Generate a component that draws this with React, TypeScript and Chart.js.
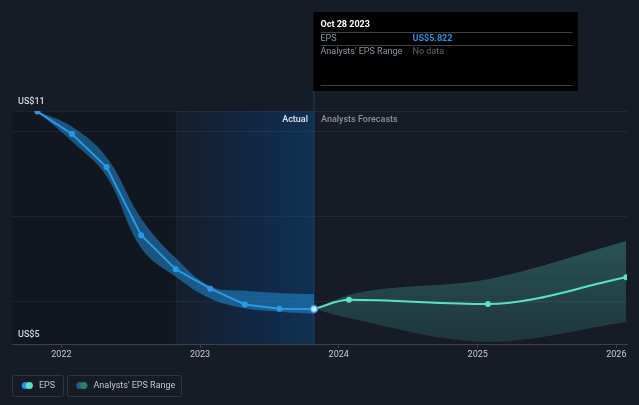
import React, { useEffect, useRef } from "react";
import { Chart, registerables } from "chart.js";

Chart.register(...registerables);

// ---- data ----
const actualDates = ["2021-10-30", "2022-01-29", "2022-04-30", "2022-07-30", "2022-10-29", "2023-01-28", "2023-04-29", "2023-07-29", "2023-10-28"];
const actualEps = [10.466, 9.94, 9.16, 7.56, 6.76, 6.3, 5.93, 5.83, 5.822];
const actualHigh = [10.466, 10.11, 9.39, 7.96, 7.02, 6.36, 6.25, 6.2, 6.17];
const actualLow = [10.466, 9.76, 8.94, 7.26, 6.58, 6.07, 5.84, 5.76, 5.71];

const forecastDates = ["2023-10-28", "2024-01-28", "2025-01-28", "2026-01-27"];
const forecastEps = [5.822, 6.04, 5.94, 6.57];
const forecastHigh = [5.822, 6.15, 6.52, 7.42];
const forecastLow = [5.822, 5.61, 5.05, 5.52];

const yearTicks = [2022, 2023, 2024, 2025, 2026];
const yGridValues = [6, 8, 10];
const yTopLabel = "US$11";
const yBottomLabel = "US$5";
const tooltipDate = "Oct 28 2023";
const tooltipEps = "US$5.822";
const tooltipRange = "No data";

const FONT = "Roboto, 'Noto Sans', sans-serif";
const BG = "#161b26";

const toPts = (dates: string[], vals: number[]) =>
  dates.map((d, i) => ({ x: Date.parse(d), y: vals[i] }));

const overlayPlugin = {
  id: "overlay",
  beforeDatasetsDraw(chart: any) {
    const { ctx, chartArea, scales } = chart;
    const x = scales.x;
    const xStart = x.getPixelForValue(Date.parse(actualDates[4]));
    const xNow = x.getPixelForValue(Date.parse(actualDates[actualDates.length - 1]));
    const top = chartArea.top;
    const bottom = chartArea.bottom;
    ctx.save();
    ctx.fillStyle = "rgba(0,0,0,0.18)";
    ctx.fillRect(chartArea.left, top, xStart - chartArea.left, bottom - top);
    const g = ctx.createLinearGradient(xStart, 0, xNow, 0);
    g.addColorStop(0, "rgba(10,70,130,0.08)");
    g.addColorStop(1, "rgba(10,70,130,0.5)");
    ctx.fillStyle = g;
    ctx.fillRect(xStart, top, xNow - xStart, bottom - top);
    ctx.fillStyle = "rgba(255,255,255,0.03)";
    ctx.fillRect(xStart, top, 1, bottom - top);
    ctx.fillStyle = "rgba(35,80,125,0.7)";
    ctx.fillRect(Math.round(xNow) - 0.5, 91, 1, bottom - 91);
    ctx.restore();
  },
  afterDraw(chart: any) {
    const { ctx, chartArea, scales } = chart;
    const x = scales.x;
    const xNow = x.getPixelForValue(Date.parse(actualDates[actualDates.length - 1]));
    ctx.save();
    ctx.textBaseline = "middle";
    ctx.font = `500 9px ${FONT}`;
    ctx.fillStyle = "#d4d7dc";
    ctx.textAlign = "left";
    ctx.fillText(yTopLabel, 18, chartArea.top - 9);
    ctx.fillText(yBottomLabel, 18, chartArea.bottom - 9);
    ctx.font = `500 9px ${FONT}`;
    ctx.fillStyle = "#e2e5ea";
    ctx.textAlign = "right";
    ctx.fillText("Actual", xNow - 6, chartArea.top + 9);
    ctx.fillStyle = "#8a9099";
    ctx.textAlign = "left";
    ctx.fillText("Analysts Forecasts", xNow + 7, chartArea.top + 9);

    const bx = Math.round(xNow) - 0.5;
    ctx.fillStyle = "#000000";
    ctx.fillRect(bx, 12, 578 - bx, 79);
    ctx.fillStyle = "#3a3f48";
    ctx.fillRect(bx + 7, 32, 252, 1);
    ctx.fillRect(bx + 7, 45, 252, 1);
    ctx.fillRect(bx + 7, 85, 252, 1);
    ctx.textAlign = "left";
    ctx.font = `bold 9px ${FONT}`;
    ctx.fillStyle = "#ffffff";
    ctx.fillText(tooltipDate, bx + 7, 24.5);
    ctx.font = `9px ${FONT}`;
    ctx.fillStyle = "#8f959e";
    ctx.fillText("EPS", bx + 7, 38.5);
    ctx.fillText("Analysts' EPS Range", bx + 7, 52);
    ctx.font = `bold 9px ${FONT}`;
    ctx.fillStyle = "#2a93dc";
    ctx.fillText(tooltipEps, bx + 99, 38.5);
    ctx.font = `9px ${FONT}`;
    ctx.fillStyle = "#5f646c";
    ctx.fillText(tooltipRange, bx + 99, 52);

    const box = (lx: number, w: number) => {
      ctx.strokeStyle = "#2f3541";
      ctx.lineWidth = 1;
      ctx.beginPath();
      ctx.roundRect(lx + 0.5, 375.5, w, 21, 2);
      ctx.stroke();
    };
    const dot = (cx: number, c: string) => {
      ctx.fillStyle = c;
      ctx.beginPath();
      ctx.arc(cx, 385.5, 3.6, 0, Math.PI * 2);
      ctx.fill();
    };
    box(12, 51);
    dot(25.3, "#2394df");
    dot(29.3, "#5ce0c6");
    box(67, 114);
    dot(79.8, "#1f5d8f");
    dot(83.8, "#2e7a72");
    ctx.font = `9px ${FONT}`;
    ctx.fillStyle = "#c3c7ce";
    ctx.textAlign = "left";
    ctx.fillText("EPS", 39, 385.5);
    ctx.fillText("Analysts' EPS Range", 93.5, 385.5);
    ctx.restore();
  },
};

export default function App() {
  const ref = useRef<HTMLCanvasElement | null>(null);
  useEffect(() => {
    if (!ref.current) return;
    const lastIdx = actualDates.length - 1;
    const chart = new Chart(ref.current, {
      type: "line",
      data: {
        datasets: [
          {
            label: "Actual high",
            data: toPts(actualDates, actualHigh),
            borderWidth: 0,
            pointRadius: 0,
            tension: 0.4,
            fill: false,
            order: 5,
          },
          {
            label: "Actual low",
            data: toPts(actualDates, actualLow),
            borderWidth: 0,
            pointRadius: 0,
            tension: 0.4,
            fill: "-1",
            backgroundColor: "rgba(35,148,223,0.5)",
            order: 4,
          },
          {
            label: "Forecast high",
            data: toPts(forecastDates, forecastHigh),
            borderWidth: 0,
            pointRadius: 0,
            cubicInterpolationMode: "monotone",
            fill: false,
            order: 3,
          },
          {
            label: "Forecast low",
            data: toPts(forecastDates, forecastLow),
            borderWidth: 0,
            pointRadius: 0,
            cubicInterpolationMode: "monotone",
            fill: "-1",
            backgroundColor: (c: any) => {
              const area = c.chart.chartArea;
              if (!area) return "rgba(68,160,148,0.35)";
              const g = c.chart.ctx.createLinearGradient(0, area.top + 120, 0, area.bottom);
              g.addColorStop(0, "rgba(68,160,148,0.45)");
              g.addColorStop(1, "rgba(68,160,148,0.2)");
              return g;
            },
            order: 2,
          },
          {
            label: "Forecast EPS",
            data: toPts(forecastDates, forecastEps),
            borderColor: "#5ce0c6",
            backgroundColor: "#5ce0c6",
            borderWidth: 2,
            pointRadius: (c: any) => (c.dataIndex === 0 ? 0 : 3),
            pointBorderWidth: 0,
            cubicInterpolationMode: "monotone",
            fill: false,
            order: 1,
          },
          {
            label: "EPS",
            data: toPts(actualDates, actualEps),
            borderColor: "#2a9ae6",
            backgroundColor: (c: any) => (c.dataIndex === lastIdx ? "#d2e9fb" : "#2a9ae6"),
            borderWidth: 2,
            tension: 0,
            pointRadius: (c: any) => (c.dataIndex === lastIdx ? 3.5 : 3),
            pointBorderWidth: (c: any) => (c.dataIndex === lastIdx ? 1.5 : 0),
            pointBorderColor: "#2a9ae6",
            fill: false,
            order: 0,
          },
        ],
      },
      options: {
        responsive: false,
        animation: false,
        events: [],
        layout: { padding: { left: 12, right: 12, top: 111, bottom: 44.2 } },
        plugins: { legend: { display: false }, tooltip: { enabled: false } },
        scales: {
          x: {
            type: "linear",
            min: Date.UTC(2021, 7, 24),
            max: Date.UTC(2026, 0, 29),
            afterBuildTicks: (s: any) => {
              s.ticks = yearTicks.map((y) => ({ value: Date.UTC(y, 0, 1) }));
            },
            ticks: {
              color: "#c8ccd3",
              font: { family: FONT, size: 9 },
              padding: 1,
              maxRotation: 0,
              autoSkip: false,
              callback: (v: any) => String(new Date(v).getUTCFullYear()),
            },
            grid: { drawOnChartArea: false, drawTicks: true, tickLength: 4, color: "#3c424d" },
            border: { display: true, color: "#3c424d", width: 1 },
          },
          y: {
            type: "linear",
            min: 5,
            max: 10.48,
            afterBuildTicks: (s: any) => {
              s.ticks = [...yGridValues, 10.48].map((v) => ({ value: v }));
            },
            ticks: { display: false },
            grid: { drawTicks: false, color: "#242a35", lineWidth: 1 },
            border: { display: false },
          },
        },
      },
      plugins: [overlayPlugin],
    });
    return () => chart.destroy();
  }, []);
  return (
    <div style={{ position: "fixed", left: 0, top: 0, width: 639, height: 405, background: BG }}>
      <canvas ref={ref} width={639} height={405} style={{ display: "block" }} />
    </div>
  );
}
